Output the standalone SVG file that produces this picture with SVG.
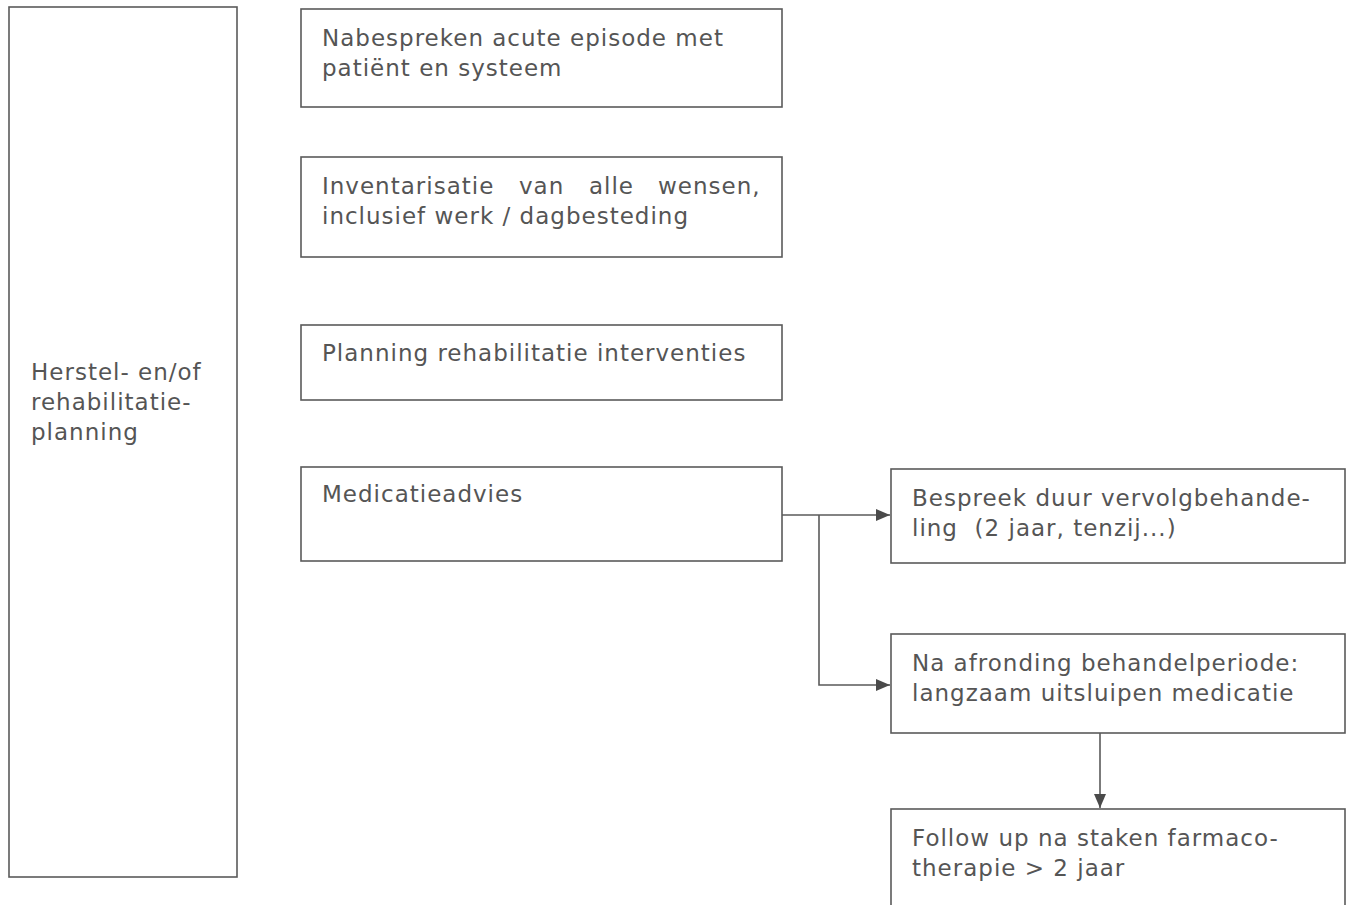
<svg xmlns="http://www.w3.org/2000/svg" width="1353" height="905" viewBox="0 0 1353 905">
<style>
.box{fill:#fff;stroke:#5a5a5a;stroke-width:1.6}
.t{font-family:"DejaVu Sans",Verdana,sans-serif;font-size:23px;letter-spacing:1px;fill:#555}
.c{fill:none;stroke:#5a5a5a;stroke-width:1.6}
</style>
<defs>
<marker id="arrB" viewBox="0 0 14 12" refX="14" refY="6" markerWidth="14" markerHeight="12" markerUnits="userSpaceOnUse" orient="auto">
<path d="M0,0 L14,6 L0,12 z" fill="#4a4a4a"/>
</marker>
</defs>
<rect width="1353" height="905" fill="#fff"/>
<g id="n-herstel">
<rect class="box" x="9" y="7" width="228" height="870"/>
<text class="t" x="31" y="380">Herstel- en/of</text>
<text class="t" x="31" y="410">rehabilitatie-</text>
<text class="t" x="31" y="440">planning</text>
</g>
<g id="n-nabespreken">
<rect class="box" x="301" y="9" width="481" height="98"/>
<text class="t" x="322" y="46">Nabespreken acute episode met</text>
<text class="t" x="322" y="76">patiënt en systeem</text>
</g>
<g id="n-inventarisatie">
<rect class="box" x="301" y="157" width="481" height="100"/>
<text class="t" x="322" y="194">Inventarisatie</text>
<text class="t" x="519" y="194">van</text>
<text class="t" x="589" y="194">alle</text>
<text class="t" x="658" y="194">wensen,</text>
<text class="t" x="322" y="224">inclusief werk / dagbesteding</text>
</g>
<g id="n-planning">
<rect class="box" x="301" y="325" width="481" height="75"/>
<text class="t" x="322" y="361">Planning rehabilitatie interventies</text>
</g>
<g id="n-medicatie">
<rect class="box" x="301" y="467" width="481" height="94"/>
<text class="t" x="322" y="502">Medicatieadvies</text>
</g>
<g id="n-bespreek">
<rect class="box" x="891" y="469" width="454" height="94"/>
<text class="t" x="912" y="506">Bespreek duur vervolgbehande-</text>
<text class="t" x="912" y="536" xml:space="preserve">ling  (2 jaar, tenzij...)</text>
</g>
<g id="n-afronding">
<rect class="box" x="891" y="634" width="454" height="99"/>
<text class="t" x="912" y="671">Na afronding behandelperiode:</text>
<text class="t" x="912" y="701">langzaam uitsluipen medicatie</text>
</g>
<g id="n-followup">
<rect class="box" x="891" y="809" width="454" height="110"/>
<text class="t" x="912" y="846">Follow up na staken farmaco-</text>
<text class="t" x="912" y="876">therapie &gt; 2 jaar</text>
</g>
<g id="connectors">
<path class="c" d="M782,515 H890" marker-end="url(#arrB)"/>
<path class="c" d="M819,515 V685 H890" marker-end="url(#arrB)"/>
<path class="c" d="M1100,733 V808" marker-end="url(#arrB)"/>
</g>
</svg>
